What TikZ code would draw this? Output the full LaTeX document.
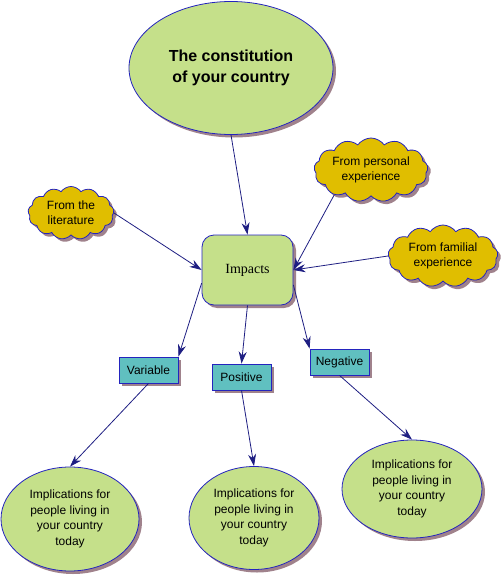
\documentclass[tikz,border=0pt]{standalone}
\usepackage{fontspec}
\setmainfont{Liberation Sans}
\newfontfamily\impactfont{Liberation Serif}
\usepackage{xcolor}
\usetikzlibrary{shapes.geometric,shapes.symbols,shadows,arrows.meta}

\definecolor{topicgreen}{RGB}{197,224,138}
\definecolor{cloudgold}{RGB}{224,190,0}
\definecolor{linkteal}{RGB}{96,192,192}
\definecolor{edgeblue}{RGB}{36,36,190}
\definecolor{arrownavy}{RGB}{30,30,130}
\definecolor{shadowmauve}{RGB}{160,130,140}

\tikzset{
  mapshadow/.style={drop shadow={shadow xshift=3pt,shadow yshift=-3pt,fill=shadowmauve,opacity=1}},
  topic/.style={ellipse, draw=edgeblue, line width=0.8pt, fill=topicgreen, mapshadow, align=center, inner sep=0pt, font=\fontsize{12}{15.5}\selectfont},
  source/.style={cloud, cloud puffs=13, cloud puff arc=110, cloud ignores aspect, draw=edgeblue, line width=0.8pt, fill=cloudgold, mapshadow, align=center, inner sep=0pt, font=\fontsize{12}{15}\selectfont},
  linkbox/.style={rectangle, draw=edgeblue, line width=0.8pt, fill=linkteal, mapshadow, minimum width=59pt, minimum height=26pt, inner sep=0pt, font=\fontsize{12}{14}\selectfont},
  link/.style={arrownavy, line width=0.8pt, -{Stealth[length=12pt,width=8pt]}}
}

\begin{document}
\begin{tikzpicture}[x=1pt,y=-1pt]
  \useasboundingbox (0,0) rectangle (501,575);

  \node (constitution) [topic, minimum width=204pt, minimum height=133pt, font=\bfseries\fontsize{16}{21.5}\selectfont] at (231,68) {The constitution\\of your country};
  \node (impacts) [rectangle, rounded corners=12pt, draw=edgeblue, line width=0.8pt, fill=topicgreen, mapshadow, minimum width=91pt, minimum height=70pt, font=\impactfont\fontsize{14}{16}\selectfont] at (247.5,270) {Impacts};

  \node (literature) [source, minimum width=86pt, minimum height=53pt] at (71,213) {From the\\literature};
  \node (personal) [source, minimum width=114pt, minimum height=64pt] at (371,170) {From personal\\experience};
  \node (familial) [source, minimum width=110pt, minimum height=62pt] at (443,256) {From familial\\experience};

  \node (variable) [linkbox] at (148.5,370) {Variable};
  \node (positive) [linkbox] at (241.5,377) {Positive};
  \node (negative) [linkbox] at (339.5,362) {Negative};

  \node (implvar) [topic, minimum width=138pt, minimum height=104pt] at (70,519) {Implications for\\people living in\\your country\\today};
  \node (implpos) [topic, minimum width=130pt, minimum height=103pt] at (254,518) {Implications for\\people living in\\your country\\today};
  \node (implneg) [topic, minimum width=140pt, minimum height=98pt] at (412,489) {Implications for\\people living in\\your country\\today};

  \path[link] (constitution.south) edge (impacts.north);
  \path[link] (literature.east) edge (impacts.west);
  \path[link] (personal.214) edge (impacts.east);
  \path[link] (familial.west) edge (impacts.east);

  \path[link] (impacts.196) edge (variable.north east);
  \path[link] (impacts.south) edge (positive.north);
  \path[link] (impacts.-18) edge (negative.north west);

  \path[link] (variable.south) edge (implvar.north);
  \path[link] (positive.south) edge (implpos.north);
  \path[link] (negative.south) edge (implneg.north);
\end{tikzpicture}
\end{document}
